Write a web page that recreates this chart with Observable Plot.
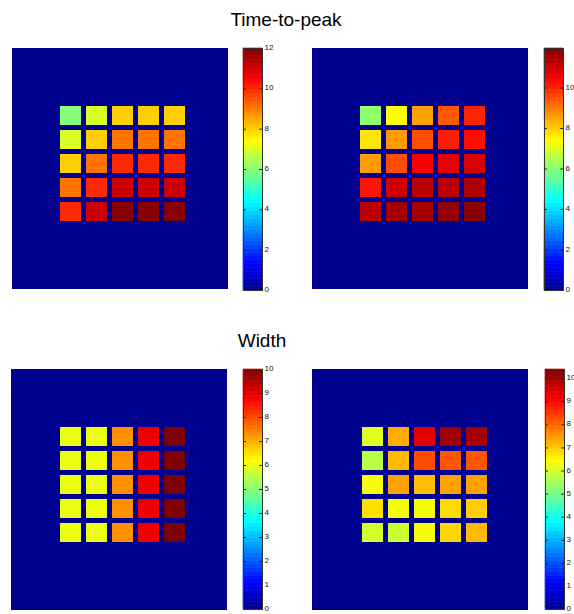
<!DOCTYPE html>
<html><head><meta charset="utf-8">
<script src="https://cdn.jsdelivr.net/npm/d3@7"></script>
<script src="https://cdn.jsdelivr.net/npm/@observablehq/plot@0.6"></script>
<style>
body{margin:0;background:#fff;width:574px;height:614px;position:relative;overflow:hidden;font-family:"Liberation Sans",Arial,sans-serif;}
.abs{position:absolute;}
.abs svg{max-width:none !important;}
.title{position:absolute;font-size:19px;line-height:24px;color:#000;transform:translateX(-50%);white-space:nowrap;}
</style></head><body>
<script>
// ---- data ----
const titles = ["Time-to-peak", "Width"];
const rows = [0, 1, 2, 3, 4];
const cols = [0, 1, 2, 3, 4];
const ttpTrue = [
  [6.0, 7.0, 8.0, 8.0, 8.0],
  [7.0, 8.0, 9.1, 9.1, 9.1],
  [8.0, 9.1, 10.0, 10.0, 10.0],
  [9.1, 10.0, 11.1, 11.1, 11.1],
  [10.0, 11.1, 11.9, 11.9, 11.9]
];
const ttpEst = [
  [6.1, 7.4, 8.5, 9.4, 10.0],
  [7.7, 8.6, 9.5, 10.1, 10.3],
  [8.6, 9.5, 10.5, 10.7, 10.9],
  [10.2, 11.0, 11.25, 11.25, 11.4],
  [11.25, 11.5, 11.5, 11.7, 11.85]
];
const widthTrue = [
  [6.0, 6.0, 7.3, 8.9, 10.0],
  [6.0, 6.0, 7.3, 8.9, 10.0],
  [6.0, 6.0, 7.3, 8.9, 10.0],
  [6.0, 6.0, 7.3, 8.9, 10.0],
  [6.0, 6.0, 7.3, 8.9, 10.0]
];
const widthEst = [
  [6.1, 7.3, 9.35, 10.1, 10.0],
  [5.7, 7.15, 8.3, 8.2, 8.2],
  [6.35, 7.4, 7.1, 7.4, 7.4],
  [6.75, 6.35, 6.35, 6.8, 6.95],
  [6.0, 5.9, 6.35, 6.85, 7.15]
];
const maxTtpTrue = 12, maxTtpEst = 11.95, maxWidthTrue = 10, maxWidthEst = 10.4;
const ticksTtpTrue = [0, 2, 4, 6, 8, 10, 12];
const ticksTtpEst = [0, 2, 4, 6, 8, 10];
const ticksWidthTrue = [0, 1, 2, 3, 4, 5, 6, 7, 8, 9, 10];
const ticksWidthEst = [0, 1, 2, 3, 4, 5, 6, 7, 8, 9, 10];

// ---- MATLAB jet(64)-like interpolator ----
function jet(t) {
  const k = 1 + 63 * Math.max(0, Math.min(1, t));
  const f = (a, b) => Math.max(0, Math.min(1, (k - a) / 16, (b - k) / 16));
  return `rgb(${Math.round(255 * f(24, 72))},${Math.round(255 * f(8, 56))},${Math.round(255 * f(-8, 40))})`;
}

// ---- layout ----
const panels = [
  {values: ttpTrue, max: maxTtpTrue, ticks: ticksTtpTrue, left: 12, top: 48, gx: [47, 174], cb: 243, cbh: 242},
  {values: ttpEst, max: maxTtpEst, ticks: ticksTtpEst, left: 312, top: 48, gx: [47, 173], cb: 544, cbh: 242},
  {values: widthTrue, max: maxWidthTrue, ticks: ticksWidthTrue, left: 11, top: 369, gx: [47, 175], cb: 243, cbh: 240},
  {values: widthEst, max: maxWidthEst, ticks: ticksWidthEst, left: 312, top: 369, gx: [49, 176], cb: 545, cbh: 240}
];

function place(node, left, top) {
  const d = document.createElement("div");
  d.className = "abs";
  d.style.left = left + "px";
  d.style.top = top + "px";
  d.appendChild(node);
  document.body.appendChild(d);
}

function panel(p) {
  const data = [];
  rows.forEach(r => cols.forEach(c => data.push({row: r, col: c, value: p.values[r][c]})));
  return Plot.plot({
    width: 216, height: 241, margin: 0,
    style: {background: "transparent", overflow: "visible", maxWidth: "none"},
    x: {type: "band", domain: cols, range: p.gx, paddingInner: 0.2, paddingOuter: 0, axis: null},
    y: {type: "band", domain: rows, range: [58, 174], paddingInner: 0.2, paddingOuter: 0, axis: null},
    color: {type: "linear", domain: [0, p.max], interpolate: jet},
    marks: [
      Plot.rect([0], {fill: d => d}),
      Plot.cell(data, {x: "col", y: "row", fill: "value", inset: 0})
    ]
  });
}

function colorbar(p) {
  const levels = d3.range(64).map(i => ({y1: i * p.max / 64, y2: (i + 1) * p.max / 64, v: (i + 0.5) * p.max / 64}));
  return Plot.plot({
    width: 45, height: p.cbh, marginLeft: 0, marginRight: 26, marginTop: 0, marginBottom: 0,
    style: {background: "transparent", overflow: "visible", maxWidth: "none", fontFamily: "Liberation Sans, Arial, sans-serif"},
    x: {domain: [0, 1], axis: null},
    y: {domain: [0, p.max], axis: null},
    color: {type: "linear", domain: [0, p.max], interpolate: jet},
    marks: [
      Plot.rect(levels, {y1: "y1", y2: "y2", fill: "v", stroke: "v", strokeWidth: 0.6}),
      Plot.ruleY(p.ticks, {x1: 0, x2: 0.15, stroke: "#222"}),
      Plot.ruleY(p.ticks, {x1: 0.85, x2: 1, stroke: "#222"}),
      Plot.frame({stroke: "#333"}),
      Plot.axisY(p.ticks, {anchor: "right", tickSize: 0, tickPadding: 2, fontSize: 8, dy: -1, tickFormat: d => String(d), fill: "#111"})
    ]
  });
}

panels.forEach(p => {
  place(panel(p), p.left, p.top);
  place(colorbar(p), p.cb, p.top);
});

const t1 = document.createElement("div");
t1.className = "title"; t1.textContent = titles[0];
t1.style.left = "286px"; t1.style.top = "8px";
document.body.appendChild(t1);
const t2 = document.createElement("div");
t2.className = "title"; t2.textContent = titles[1];
t2.style.left = "262px"; t2.style.top = "329px";
document.body.appendChild(t2);
</script>
</body></html>
